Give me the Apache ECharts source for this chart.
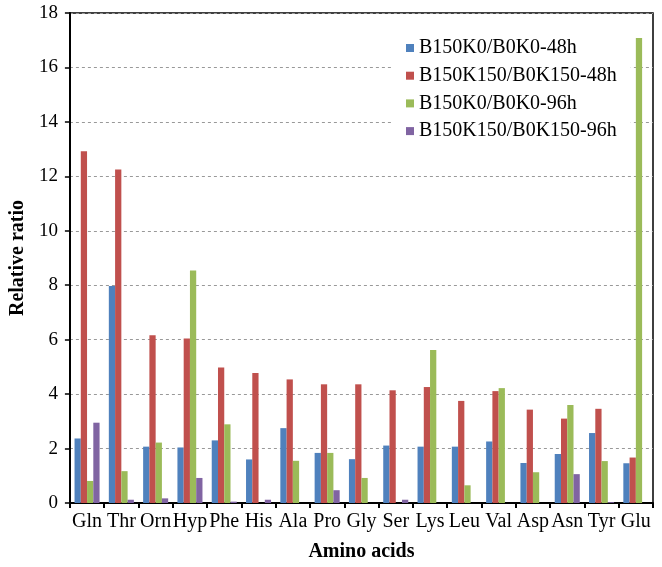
<!DOCTYPE html>
<html>
<head>
<meta charset="utf-8">
<script src="https://cdn.jsdelivr.net/npm/echarts@6/dist/echarts.min.js"></script>
<style>html,body{margin:0;padding:0;background:#fff}#c{width:662px;height:567px}</style>
</head>
<body>
<div id="c"></div>
<script>
var categories = ['Gln','Thr','Orn','Hyp','Phe','His','Ala','Pro','Gly','Ser','Lys','Leu','Val','Asp','Asn','Tyr','Glu'];
var seriesNames = ['B150K0/B0K0-48h','B150K150/B0K150-48h','B150K0/B0K0-96h','B150K150/B0K150-96h'];
var s48K0 = [2.37, 7.97, 2.07, 2.04, 2.30, 1.60, 2.75, 1.84, 1.61, 2.11, 2.07, 2.07, 2.26, 1.47, 1.80, 2.57, 1.46];
var s48K150 = [12.92, 12.25, 6.16, 6.04, 4.98, 4.78, 4.54, 4.36, 4.36, 4.14, 4.26, 3.75, 4.11, 3.43, 3.10, 3.46, 1.67];
var s96K0 = [0.81, 1.17, 2.22, 8.54, 2.89, 0, 1.55, 1.84, 0.92, 0, 5.62, 0.65, 4.22, 1.13, 3.60, 1.54, 17.08];
var s96K150 = [2.95, 0.12, 0.17, 0.92, 0.05, 0.12, 0, 0.47, 0, 0.12, 0, 0, 0, 0, 1.06, 0.03, 0];
var yTicks = [0, 2, 4, 6, 8, 10, 12, 14, 16, 18];

var colors = ['#4F81BD', '#C0504D', '#9BBB59', '#8064A2'];
var values = [s48K0, s48K150, s96K0, s96K150];
var font = 'Liberation Serif';

var chart = echarts.init(document.getElementById('c'));
chart.setOption({
  animation: false,
  color: colors,
  grid: { left: 66, right: 9, top: 13, bottom: 63, show: true, borderColor: '#000', borderWidth: 1.5, backgroundColor: 'transparent' },
  legend: {
    orient: 'vertical',
    left: 393, top: 28,
    padding: [10, 14, 10, 13],
    backgroundColor: '#fff',
    itemWidth: 8, itemHeight: 8, itemGap: 7.7,
    icon: 'rect',
    textStyle: { fontFamily: font, fontSize: 20, color: '#000', lineHeight: 20 },
    data: seriesNames
  },
  xAxis: {
    type: 'category',
    data: categories,
    name: 'Amino acids',
    nameLocation: 'middle',
    nameGap: 39,
    nameTextStyle: { fontFamily: font, fontSize: 20, fontWeight: 'bold', color: '#000' },
    axisLine: { lineStyle: { color: '#000', width: 2 } },
    axisTick: { show: true, length: 5, lineStyle: { color: '#000', width: 2 } },
    axisLabel: { fontFamily: font, fontSize: 20, color: '#000', margin: 9, interval: 0 }
  },
  yAxis: {
    type: 'value',
    min: 0, max: 18, interval: 2,
    name: 'Relative ratio',
    nameLocation: 'middle',
    nameGap: 41,
    nameRotate: 90,
    nameTextStyle: { fontFamily: font, fontSize: 20, fontWeight: 'bold', color: '#000' },
    axisLine: { show: true, lineStyle: { color: '#000', width: 2 } },
    axisTick: { show: true, length: 5, lineStyle: { color: '#000', width: 1.5 } },
    axisLabel: { fontFamily: font, fontSize: 19, color: '#000', margin: 12,
      formatter: function (v) { return yTicks.indexOf(v) >= 0 ? String(v) : ''; } },
    splitLine: { show: true, lineStyle: { color: '#999', width: 1, type: [3, 3] } }
  },
  series: seriesNames.map(function (n, i) {
    return { name: n, type: 'bar', data: values[i], barGap: '0%', barCategoryGap: '27%', itemStyle: { color: colors[i] } };
  })
});
</script>
</body>
</html>
